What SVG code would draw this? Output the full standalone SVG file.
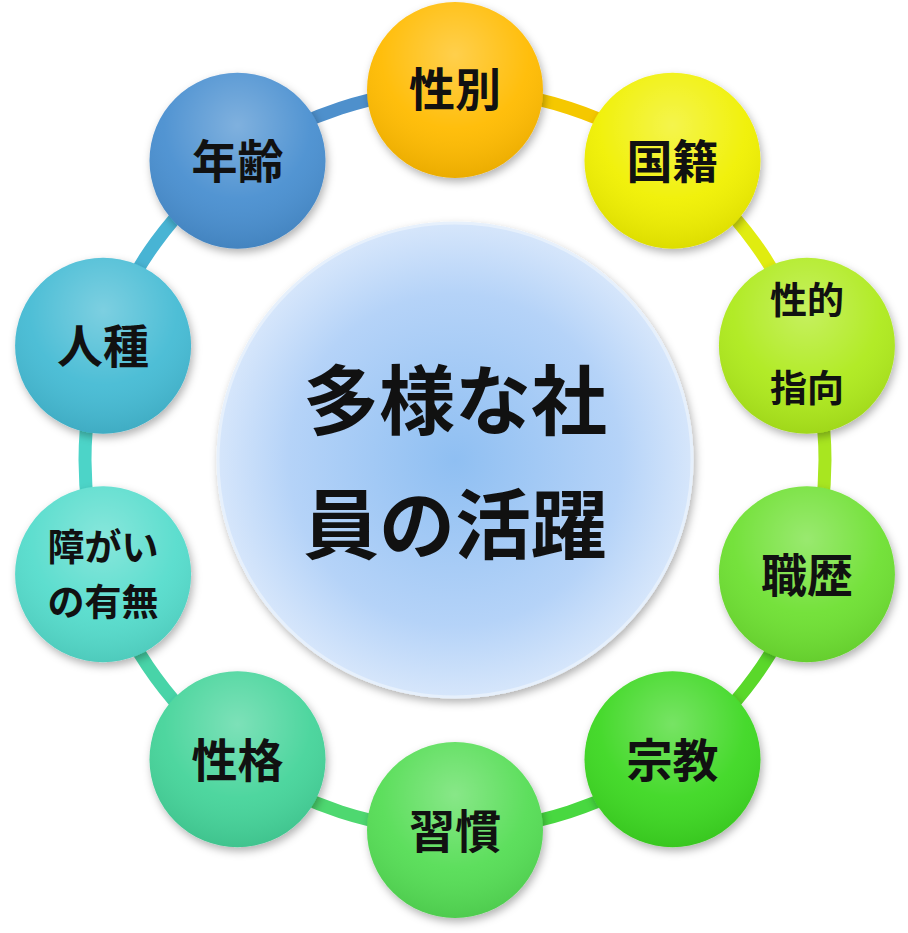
<svg xmlns="http://www.w3.org/2000/svg" width="908" height="933" viewBox="0 0 908 933">
<style>
.t{font-family:"Noto Sans CJK JP","Noto Sans CJK SC",sans-serif;font-weight:bold;fill:#111;text-anchor:middle;dominant-baseline:central}
.n{font-size:46px}.s{font-size:37px}.c{font-size:76px}
.seg{fill:none;stroke-width:13}
</style>
<defs>
<radialGradient id="hl" cx="0.5" cy="0.3" r="0.7">
<stop offset="0" stop-color="#fff" stop-opacity="0.3"/>
<stop offset="0.6" stop-color="#fff" stop-opacity="0.05"/>
<stop offset="1" stop-color="#000" stop-opacity="0.08"/>
</radialGradient>
<radialGradient id="cg" cx="0.5" cy="0.5" r="0.5">
<stop offset="0" stop-color="#8fbff2"/>
<stop offset="0.7" stop-color="#b5d3f8"/>
<stop offset="1" stop-color="#d6e6fb"/>
</radialGradient>
<filter id="sh" x="-20%" y="-20%" width="140%" height="140%">
<feDropShadow dx="2" dy="4" stdDeviation="4" flood-opacity="0.3"/>
</filter>
</defs>
<g id="connectors">
<path class="seg" stroke="#f5c800" d="M455,90 A370,370 0 0 1 672.5,160.7"/>
<path class="seg" stroke="#e0ec10" d="M672.5,160.7 A370,370 0 0 1 806.9,345.7"/>
<path class="seg" stroke="#a8e620" d="M806.9,345.7 A370,370 0 0 1 806.9,574.3"/>
<path class="seg" stroke="#5ad82a" d="M806.9,574.3 A370,370 0 0 1 672.5,759.3"/>
<path class="seg" stroke="#48d840" d="M672.5,759.3 A370,370 0 0 1 455,830"/>
<path class="seg" stroke="#4ed870" d="M455,830 A370,370 0 0 1 237.5,759.3"/>
<path class="seg" stroke="#48d4a8" d="M237.5,759.3 A370,370 0 0 1 103.1,574.3"/>
<path class="seg" stroke="#4cd4c8" d="M103.1,574.3 A370,370 0 0 1 103.1,345.7"/>
<path class="seg" stroke="#48b4d4" d="M103.1,345.7 A370,370 0 0 1 237.5,160.7"/>
<path class="seg" stroke="#4e90cc" d="M237.5,160.7 A370,370 0 0 1 455,90"/>
</g>
<g id="center"><circle cx="455" cy="460" r="237" fill="url(#cg)" stroke="#e6f0fc" stroke-width="3" filter="url(#sh)"/>
<text class="t c" x="455" y="396">多様な社</text><text class="t c" x="455" y="520">員の活躍</text></g>
<g id="n1"><circle cx="455" cy="90" r="88" fill="#ffbb00" filter="url(#sh)"/><circle cx="455" cy="90" r="88" fill="url(#hl)"/><text class="t n" x="455" y="86">性別</text></g>
<g id="n2"><circle cx="672.5" cy="160.7" r="88" fill="#f0f000" filter="url(#sh)"/><circle cx="672.5" cy="160.7" r="88" fill="url(#hl)"/><text class="t n" x="672.5" y="158">国籍</text></g>
<g id="n3"><circle cx="806.9" cy="345.7" r="88" fill="#aeea1e" filter="url(#sh)"/><circle cx="806.9" cy="345.7" r="88" fill="url(#hl)"/><text class="t s" x="806.9" y="298">性的</text><text class="t s" x="806.9" y="386">指向</text></g>
<g id="n4"><circle cx="806.9" cy="574.3" r="88" fill="#6ee030" filter="url(#sh)"/><circle cx="806.9" cy="574.3" r="88" fill="url(#hl)"/><text class="t n" x="806.9" y="572">職歴</text></g>
<g id="n5"><circle cx="672.5" cy="759.3" r="88" fill="#3dd820" filter="url(#sh)"/><circle cx="672.5" cy="759.3" r="88" fill="url(#hl)"/><text class="t n" x="672.5" y="757">宗教</text></g>
<g id="n6"><circle cx="455" cy="830" r="88" fill="#55dd55" filter="url(#sh)"/><circle cx="455" cy="830" r="88" fill="url(#hl)"/><text class="t n" x="455" y="828">習慣</text></g>
<g id="n7"><circle cx="237.5" cy="759.3" r="88" fill="#44d49a" filter="url(#sh)"/><circle cx="237.5" cy="759.3" r="88" fill="url(#hl)"/><text class="t n" x="237.5" y="757">性格</text></g>
<g id="n8"><circle cx="103.1" cy="574.3" r="88" fill="#55dccc" filter="url(#sh)"/><circle cx="103.1" cy="574.3" r="88" fill="url(#hl)"/><text class="t s" x="103.1" y="545">障がい</text><text class="t s" x="103.1" y="600">の有無</text></g>
<g id="n9"><circle cx="103.1" cy="345.7" r="88" fill="#44bbd4" filter="url(#sh)"/><circle cx="103.1" cy="345.7" r="88" fill="url(#hl)"/><text class="t n" x="103.1" y="343">人種</text></g>
<g id="n10"><circle cx="237.5" cy="160.7" r="88" fill="#4a8fd0" filter="url(#sh)"/><circle cx="237.5" cy="160.7" r="88" fill="url(#hl)"/><text class="t n" x="237.5" y="158">年齢</text></g>
</svg>
